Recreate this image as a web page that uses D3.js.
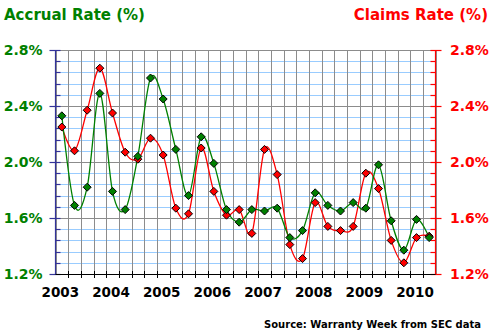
<!DOCTYPE html>
<html>
<head>
<meta charset="utf-8">
<script src="https://cdn.jsdelivr.net/npm/d3@7"></script>
<style>
html,body{margin:0;padding:0;background:#fff;}
svg{display:block;}
text{font-family:"DejaVu Sans",sans-serif;font-weight:bold;}
</style>
</head>
<body>
<svg id="chart" width="491" height="336"></svg>
<script>
const quarters = ["2003Q1","2003Q2","2003Q3","2003Q4","2004Q1","2004Q2","2004Q3","2004Q4",
  "2005Q1","2005Q2","2005Q3","2005Q4","2006Q1","2006Q2","2006Q3","2006Q4",
  "2007Q1","2007Q2","2007Q3","2007Q4","2008Q1","2008Q2","2008Q3","2008Q4",
  "2009Q1","2009Q2","2009Q3","2009Q4","2010Q1","2010Q2"];
const accrualRate = [2.33,1.69,1.82,2.49,1.79,1.66,2.04,2.60,2.45,2.09,1.76,2.18,1.99,1.66,1.57,1.66,
  1.65,1.67,1.46,1.51,1.78,1.69,1.65,1.71,1.67,1.98,1.58,1.37,1.59,1.46];
const claimsRate = [2.25,2.08,2.37,2.67,2.35,2.07,2.02,2.17,2.05,1.67,1.63,2.10,1.79,1.62,1.66,1.49,
  2.09,1.91,1.41,1.31,1.71,1.54,1.51,1.54,1.92,1.81,1.44,1.28,1.46,1.47];
const yearLabels = ["2003","2004","2005","2006","2007","2008","2009","2010"];
const yTicks = [1.2,1.6,2.0,2.4,2.8];

const svg = d3.select("#chart");
const L = 55.5, R = 435.5, T = 50, B = 274;
const x = d3.scaleBand().domain(quarters).range([L, R]).padding(0);
const y = d3.scaleLinear().domain([1.2, 2.8]).range([B, T]);
const bw = x.bandwidth();
const cx = q => x(q) + bw / 2;
const minor = d3.range(0, 21).map(i => 1.2 + i * 0.08);

// grid: minor horizontal blue
svg.append("g").selectAll("line").data(minor).join("line")
  .attr("x1", L).attr("x2", R)
  .attr("y1", d => Math.round(y(d)) + 0.5).attr("y2", d => Math.round(y(d)) + 0.5)
  .attr("stroke", "#99ccff").attr("stroke-width", 1);
// vertical gray
const bounds = quarters.map(q => x(q)).concat([R]);
svg.append("g").selectAll("line").data(bounds).join("line")
  .attr("x1", d => Math.round(d) + 0.5).attr("x2", d => Math.round(d) + 0.5)
  .attr("y1", T).attr("y2", B)
  .attr("stroke", "#8c8c8c").attr("stroke-width", 1);
// major horizontal gray
svg.append("g").selectAll("line").data(yTicks).join("line")
  .attr("x1", L).attr("x2", R)
  .attr("y1", d => Math.round(y(d)) + 0.5).attr("y2", d => Math.round(y(d)) + 0.5)
  .attr("stroke", "#8c8c8c").attr("stroke-width", 1);

// axes
const leftCol = "#333399";
svg.append("line").attr("x1", L).attr("x2", L).attr("y1", T).attr("y2", B + 0.5)
  .attr("stroke", leftCol).attr("stroke-width", 1.2);
svg.append("g").selectAll("line").data(minor).join("line")
  .attr("x1", d => yTicks.some(t => Math.abs(t - d) < 1e-6) ? L - 6 : L)
  .attr("x2", L + 5)
  .attr("y1", d => Math.round(y(d)) + 0.5).attr("y2", d => Math.round(y(d)) + 0.5)
  .attr("stroke", leftCol).attr("stroke-width", 1.2);
svg.append("line").attr("x1", R).attr("x2", R).attr("y1", T).attr("y2", B + 0.5)
  .attr("stroke", "#ff0000").attr("stroke-width", 1.2);
svg.append("g").selectAll("line").data(minor).join("line")
  .attr("x1", R - 5)
  .attr("x2", d => yTicks.some(t => Math.abs(t - d) < 1e-6) ? R + 6 : R)
  .attr("y1", d => Math.round(y(d)) + 0.5).attr("y2", d => Math.round(y(d)) + 0.5)
  .attr("stroke", "#ff0000").attr("stroke-width", 1.2);
svg.append("line").attr("x1", L).attr("x2", R).attr("y1", B + 0.5).attr("y2", B + 0.5)
  .attr("stroke", "#000").attr("stroke-width", 1);
svg.append("g").selectAll("line").data(bounds.slice(1, -1)).join("line")
  .attr("x1", d => Math.round(d) + 0.5).attr("x2", d => Math.round(d) + 0.5)
  .attr("y1", B - 3).attr("y2", B + 4)
  .attr("stroke", "#000").attr("stroke-width", 1);

// tick labels
svg.append("g").selectAll("text").data(yTicks).join("text")
  .attr("x", 42.5).attr("y", d => y(d) + 5).attr("text-anchor", "end")
  .attr("font-size", 14).attr("fill", "#008000").text(d => d.toFixed(1) + "%");
svg.append("g").selectAll("text").data(yTicks).join("text")
  .attr("x", 450).attr("y", d => y(d) + 5).attr("text-anchor", "start")
  .attr("font-size", 14).attr("fill", "#ff0000").text(d => d.toFixed(1) + "%");
svg.append("g").selectAll("text").data(yearLabels).join("text")
  .attr("x", d => cx(d + "Q1") - 1.5).attr("y", 297).attr("text-anchor", "middle")
  .attr("font-size", 13.5).attr("fill", "#000").text(d => d);

// titles
svg.append("text").attr("x", 4).attr("y", 20).attr("font-size", 15).attr("fill", "#008000")
  .text("Accrual Rate (%)");
svg.append("text").attr("x", 488).attr("y", 20).attr("font-size", 15).attr("fill", "#ff0000")
  .attr("text-anchor", "end").text("Claims Rate (%)");
svg.append("text").attr("x", 481).attr("y", 328).attr("font-size", 10).attr("fill", "#000")
  .attr("text-anchor", "end").text("Source: Warranty Week from SEC data");

// lines
const line = d3.line().x((d, i) => cx(quarters[i])).y(d => y(d)).curve(d3.curveCardinal.tension(0));
const diamond = (s) => `M0,${-s}L${s},0L0,${s}L${-s},0Z`;
function series(data, col) {
  svg.append("path").datum(data).attr("d", line).attr("fill", "none")
    .attr("stroke", col).attr("stroke-width", 1.3);
}
function markers(data, col) {
  svg.append("g").selectAll("path").data(data).join("path")
    .attr("transform", (d, i) => `translate(${cx(quarters[i])},${y(d)})`)
    .attr("d", diamond(4)).attr("fill", col).attr("stroke", "#000").attr("stroke-width", 1);
}
series(claimsRate, "#ff0000");
series(accrualRate, "#008000");
markers(claimsRate, "#ff0000");
markers(accrualRate, "#008000");
</script>
</body>
</html>
